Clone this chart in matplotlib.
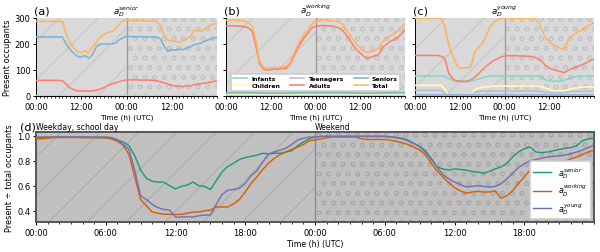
import numpy as np
import matplotlib.pyplot as plt
from matplotlib.ticker import MultipleLocator, FixedLocator, FuncFormatter

plt.rcParams['font.family'] = 'DejaVu Sans'
plt.rcParams['hatch.linewidth'] = 0.55

# hourly values over two days (weekday, then weekend)
hours = np.arange(49)
groups = ['Infants', 'Children', 'Teenagers', 'Adults', 'Seniors', 'Total']
group_colors = ['#8dd3c7', '#ffffb3', '#bebada', '#fb8072', '#80b1d3', '#fdb462']

# (a) senior district
a_infants = [0] * 49
a_children = [0] * 49
a_teens = [0] * 49
a_adults = [60, 60, 60, 60, 60, 60, 60, 59,
            45, 32, 24, 20, 19, 20, 18, 20, 22, 27, 32, 40, 46, 50, 55, 59,
            62, 62, 62, 62, 61, 61, 61, 60, 58,
            55, 50, 46, 42, 38, 38, 36, 40, 38, 44, 46, 48, 50, 52, 56, 58]
a_seniors = [227, 227, 227, 227, 227, 227, 227, 227,
             200, 180, 165, 152, 150, 155, 145, 160, 190, 199, 200, 200, 200, 203, 215, 224,
             229, 229, 228, 228, 228, 227, 227, 227, 226,
             220, 190, 172, 178, 176, 180, 178, 184, 190, 198, 200, 205, 212, 218, 222, 226]
a_total = [287, 287, 287, 287, 287, 287, 287, 287,
           240, 206, 185, 172, 166, 174, 165, 190, 206, 226, 238, 244, 248, 255, 275, 290,
           292, 291, 290, 291, 290, 289, 290, 289, 285,
           272, 235, 215, 212, 210, 206, 212, 220, 230, 254, 250, 250, 262, 270, 276, 282]

# (b) working district
b_infants = [6, 6, 6, 6, 6, 6, 6, 6,
             5, 5, 5, 5, 5, 5, 5, 5, 5, 5, 6, 6, 6, 6, 6, 6,
             6, 6, 6, 6, 6, 6, 6, 6, 6,
             6, 5, 5, 5, 5, 5, 5, 5, 5, 6, 6, 6, 6, 6, 6, 6]
b_children = [2] * 49
b_teens = [1] * 49
b_adults = [269, 270, 270, 269, 268, 267, 262, 250,
            195, 125, 103, 100, 101, 104, 103, 106, 106, 118, 145, 178, 203, 225, 243, 262,
            268, 270, 271, 270, 270, 268, 263, 255, 240,
            220, 198, 178, 165, 152, 145, 150, 155, 160, 188, 198, 210, 216, 224, 238, 255]
b_seniors = [13, 13, 13, 13, 13, 13, 13, 13,
             12, 11, 11, 11, 11, 11, 11, 11, 11, 12, 12, 12, 13, 13, 13, 13,
             13, 13, 13, 13, 13, 13, 13, 13, 13,
             12, 12, 11, 11, 11, 11, 11, 11, 12, 12, 12, 13, 13, 13, 13, 13]
b_total = [291, 291, 291, 291, 290, 287, 282, 270,
           215, 135, 110, 108, 108, 110, 109, 112, 112, 125, 155, 190, 215, 238, 256, 276,
           290, 292, 292, 291, 290, 288, 285, 280, 262,
           240, 220, 199, 185, 172, 167, 172, 176, 185, 210, 222, 231, 240, 250, 262, 278]

# (c) young district
c_infants = [77, 77, 77, 77, 77, 77, 77, 77,
             77, 68, 60, 58, 58, 58, 58, 58, 61, 65, 70, 74, 76, 77, 77, 77,
             77, 77, 77, 77, 77, 77, 77, 77, 77,
             77, 72, 62, 58, 57, 57, 58, 60, 66, 71, 74, 76, 77, 77, 77, 77]
c_children = [41, 41, 41, 41, 41, 41, 41, 41,
              25, 1, 1, 1, 1, 1, 1, 1, 25, 30, 33, 35, 36, 38, 38, 38,
              38, 38, 38, 38, 38, 38, 38, 38, 38,
              38, 35, 30, 27, 20, 19, 19, 20, 24, 28, 30, 33, 34, 35, 35, 35]
c_teens = [22, 22, 22, 22, 22, 22, 22, 22,
           12, 0, 0, 0, 0, 0, 0, 0, 13, 16, 19, 19, 19, 19, 19, 19,
           19, 19, 19, 19, 19, 19, 19, 19, 19,
           19, 16, 13, 13, 13, 13, 13, 13, 15, 18, 18, 18, 18, 18, 18, 18]
c_adults = [156, 156, 156, 156, 156, 156, 156, 153,
            145, 90, 68, 58, 56, 55, 56, 62, 72, 85, 100, 113, 125, 135, 142, 150,
            154, 155, 155, 155, 154, 154, 153, 152, 150,
            143, 133, 118, 108, 102, 98, 94, 90, 98, 105, 110, 115, 122, 128, 136, 142]
c_seniors = [2] * 49
c_total = [299, 299, 299, 299, 299, 299, 299, 299,
           268, 199, 158, 125, 104, 108, 109, 112, 168, 188, 200, 228, 262, 283, 291, 297,
           299, 299, 299, 299, 299, 299, 299, 299, 299,
           285, 255, 224, 208, 197, 190, 183, 180, 212, 228, 240, 250, 256, 265, 274, 282]

panels = [
    ('(a)', r'$a_D^{senior}$', [a_infants, a_children, a_teens, a_adults, a_seniors, a_total]),
    ('(b)', r'$a_D^{working}$', [b_infants, b_children, b_teens, b_adults, b_seniors, b_total]),
    ('(c)', r'$a_D^{young}$', [c_infants, c_children, c_teens, c_adults, c_seniors, c_total]),
]

# (d) present / total, half-hourly
hours_d = np.arange(97) * 0.5
d_senior = [0.985, 0.986, 0.987, 0.988, 0.988, 0.988, 0.988, 0.988, 0.988, 0.987, 0.986, 0.985, 0.984,
            0.978, 0.965, 0.95, 0.92, 0.84, 0.725, 0.66, 0.635, 0.63, 0.628, 0.6, 0.575, 0.595,
            0.605, 0.63, 0.6, 0.595, 0.57, 0.64, 0.71, 0.755, 0.78, 0.81, 0.825, 0.835, 0.845,
            0.86, 0.855, 0.86, 0.86, 0.87, 0.88, 0.92, 0.95, 0.975,
            0.99, 0.995, 0.995, 0.995, 0.995, 0.995, 0.995, 0.995, 0.995, 0.995, 0.995, 0.995, 0.995,
            0.99, 0.985, 0.98, 0.965, 0.94, 0.915, 0.88, 0.82, 0.75, 0.735, 0.725, 0.735, 0.73,
            0.725, 0.715, 0.71, 0.7, 0.715, 0.735, 0.75, 0.78, 0.83, 0.87, 0.895, 0.91, 0.87,
            0.865, 0.87, 0.88, 0.89, 0.9, 0.905, 0.92, 0.96, 0.975, 0.98]
d_working = [0.975, 0.976, 0.98, 0.985, 0.986, 0.986, 0.986, 0.986, 0.985, 0.985, 0.985, 0.984, 0.983,
             0.975, 0.955, 0.925, 0.85, 0.67, 0.49, 0.44, 0.39, 0.38, 0.372, 0.372, 0.37, 0.372,
             0.38, 0.39, 0.39, 0.40, 0.405, 0.43, 0.43, 0.43, 0.455, 0.49, 0.55, 0.62, 0.67,
             0.73, 0.78, 0.82, 0.85, 0.87, 0.89, 0.91, 0.93, 0.96,
             0.965, 0.975, 0.985, 0.99, 0.99, 0.99, 0.99, 0.99, 0.975, 0.97, 0.97, 0.97, 0.97,
             0.965, 0.955, 0.945, 0.93, 0.91, 0.885, 0.85, 0.78, 0.72, 0.67, 0.625, 0.585, 0.56,
             0.54, 0.55, 0.555, 0.55, 0.55, 0.56, 0.5, 0.52, 0.56, 0.62, 0.67, 0.725, 0.76,
             0.78, 0.77, 0.775, 0.79, 0.795, 0.815, 0.83, 0.85, 0.87, 0.885]
d_young = [0.988, 0.99, 0.99, 0.99, 0.99, 0.99, 0.99, 0.99, 0.99, 0.99, 0.99, 0.99, 0.99,
           0.985, 0.97, 0.93, 0.89, 0.72, 0.52, 0.49, 0.45, 0.425, 0.41, 0.405, 0.35, 0.35,
           0.352, 0.35, 0.36, 0.365, 0.365, 0.45, 0.53, 0.565, 0.57, 0.58, 0.62, 0.68, 0.72,
           0.79, 0.855, 0.87, 0.885, 0.9, 0.93, 0.965, 0.98, 0.99,
           0.99, 0.995, 0.995, 0.995, 0.995, 0.995, 0.995, 0.995, 0.995, 0.995, 0.995, 0.995, 0.995,
           0.99, 0.985, 0.975, 0.96, 0.94, 0.91, 0.87, 0.81, 0.75, 0.69, 0.655, 0.63, 0.61,
           0.59, 0.595, 0.6, 0.595, 0.59, 0.595, 0.615, 0.655, 0.7, 0.745, 0.775, 0.8, 0.81,
           0.82, 0.83, 0.835, 0.84, 0.845, 0.855, 0.87, 0.885, 0.905, 0.925]
d_labels = [r'$a_D^{senior}$', r'$a_D^{working}$', r'$a_D^{young}$']
d_colors = ['#1b9e77', '#d95f02', '#7570b3']

hhmm = FuncFormatter(lambda v, p: '%02d:00' % (int(round(v)) % 24))

DPI = 116  # hatch spacing follows the dpi


def box(l, r, t, b):
    return [l / 600, 1 - b / 253, (r - l) / 600, (b - t) / 253]


def shade(ax, line_col, sep_col):
    ax.axvspan(0, 24, facecolor='none', edgecolor=line_col, hatch='/', lw=0, zorder=0)
    ax.axvspan(24, 48, facecolor='none', edgecolor=line_col, hatch='oo', lw=0, zorder=0)
    ax.axvline(24, color=sep_col, lw=0.8, zorder=1)


fig = plt.figure(figsize=(600 / DPI, 253 / DPI), dpi=DPI)
top_boxes = [(36, 217), (226, 405), (415, 594)]
top_axes = []
for (lab, title, series), (l, r) in zip(panels, top_boxes):
    ax = fig.add_axes(box(l, r, 19, 97))
    ax.set_facecolor('#d9d9d9')
    shade(ax, '#c2c2c2', '#9a9a9a')
    for vals, name, col in zip(series, groups, group_colors):
        ax.plot(hours, vals, color=col, lw=1.0, label=name, zorder=3)
    ax.set_xlim(0, 48)
    ax.set_ylim(0, 300)
    ax.set_yticks([0, 100, 200, 300])
    ax.xaxis.set_major_locator(FixedLocator([0, 12, 24, 36]))
    ax.xaxis.set_minor_locator(MultipleLocator(1))
    ax.xaxis.set_major_formatter(hhmm)
    ax.tick_params(labelsize=5.2, length=2, width=0.6, pad=1.5)
    ax.tick_params(which='minor', length=1, width=0.5)
    for s in ax.spines.values():
        s.set_linewidth(0.6)
    ax.spines['top'].set_visible(False)
    ax.spines['right'].set_visible(False)
    ax.set_xlabel('Time (h) (UTC)', fontsize=4.6, labelpad=1.5)
    ax.set_title(title, fontsize=5.4, pad=1.5)
    ax.text(-0.01, 1.03, lab, transform=ax.transAxes, fontsize=7, ha='left', va='bottom')
    if lab != '(a)':
        ax.tick_params(labelleft=False)
    top_axes.append(ax)

top_axes[0].set_ylabel('Present occupants', fontsize=5.1, labelpad=1.5)
top_axes[1].legend(loc='lower center', bbox_to_anchor=(0.5, 0.07), ncol=3,
                   prop={'weight': 'bold', 'size': 3.8}, handlelength=2.3,
                   columnspacing=1.6, labelspacing=0.3, borderpad=0.35,
                   handletextpad=0.7, framealpha=1, borderaxespad=0,
                   edgecolor='#cccccc')

axd = fig.add_axes(box(36, 594, 133, 223))
axd.set_facecolor('#c0c0c0')
shade(axd, '#a8a8a8', '#8a8a8a')
for vals, name, col in zip([d_senior, d_working, d_young], d_labels, d_colors):
    axd.plot(hours_d, vals, color=col, lw=0.9, label=name, zorder=3)
axd.set_xlim(0, 48)
axd.set_ylim(0.31, 1.03)
axd.set_yticks([0.4, 0.6, 0.8, 1.0])
axd.xaxis.set_major_locator(FixedLocator([0, 6, 12, 18, 24, 30, 36, 42]))
axd.xaxis.set_minor_locator(MultipleLocator(1))
axd.xaxis.set_major_formatter(hhmm)
axd.tick_params(labelsize=5.2, length=2, width=0.6, pad=1.5)
axd.tick_params(which='minor', length=1, width=0.5)
for s in axd.spines.values():
    s.set_color('#555555')
    s.set_linewidth(1.2)
axd.set_xlabel('Time (h) (UTC)', fontsize=4.8, labelpad=1.5)
axd.set_ylabel('Present \u00f7 total occupants', fontsize=5.1, labelpad=2)
axd.text(0.0, 1.012, 'Weekday, school day', transform=axd.transAxes, fontsize=4.85,
         ha='left', va='bottom')
axd.text(24, 1.035, 'Weekend', fontsize=4.85, ha='left', va='bottom')
fig.text(20 / 600, 1 - 133 / 253, '(d)', fontsize=7, ha='left', va='bottom')
axd.legend(loc='lower right', fontsize=5.0, handlelength=2.2, labelspacing=0.3,
           borderpad=0.45, handletextpad=0.9, framealpha=1, borderaxespad=0.35)

fig.savefig('out.png', dpi=DPI)
